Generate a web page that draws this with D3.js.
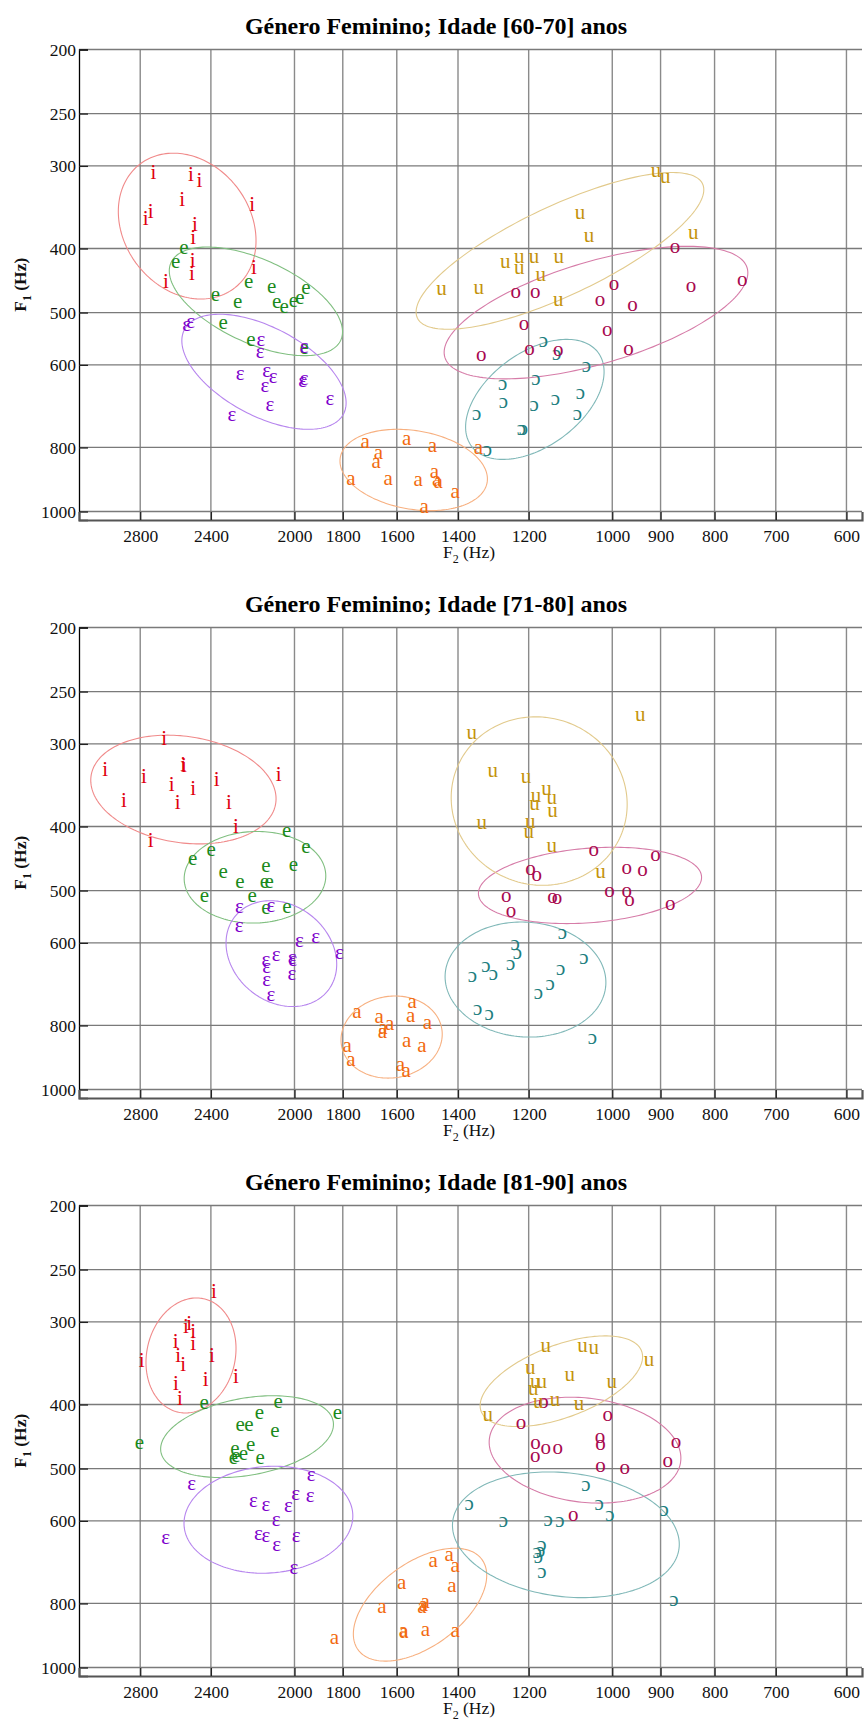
<!DOCTYPE html>
<html>
<head>
<meta charset="utf-8">
<script src="https://cdn.jsdelivr.net/npm/d3@7"></script>
<style>
  html, body { margin: 0; padding: 0; background: #fff; }
  svg { display: block; }
  text { font-family: "Liberation Serif", "Times New Roman", serif; }
</style>
</head>
<body>
<svg id="chart" width="864" height="1722"></svg>
<script>
// ---- axis ticks ----
const f1Ticks = [200, 250, 300, 400, 500, 600, 800, 1000];
const f2Ticks = [2800, 2400, 2000, 1800, 1600, 1400, 1200, 1000, 900, 800, 700, 600];

const titles = [
  "Género Feminino; Idade [60-70] anos",
  "Género Feminino; Idade [71-80] anos",
  "Género Feminino; Idade [81-90] anos"
];

const vowels = ["i", "e", "ɛ", "a", "ɔ", "o", "u"];

// ---- formant measurements [F2 Hz, F1 Hz], age 60-70 ----
const g1_i = [[2721,309],[2507,311],[2461,318],[2555,339],[2193,345],[2737,354],[2767,362],[2485,370],[2494,387],[2497,420],[2501,439],[2647,451],[2185,430]];
const g1_e = [[2545,401],[2591,421],[2377,473],[2264,484],[2210,451],[2102,459],[2079,484],[2046,493],[2005,482],[1976,477],[1951,461],[2336,521],[2199,553],[1958,568]];
const g1_E = [[2530,525],[2508,519],[2152,552],[2156,576],[1958,566],[2251,622],[2125,615],[2095,629],[2133,649],[1965,637],[1958,632],[2110,692],[2293,717],[1851,678]];
const g1_a = [[1714,788],[1665,818],[1674,844],[1566,779],[1480,798],[1339,805],[1768,896],[1630,896],[1527,901],[1474,874],[1467,901],[1462,905],[1409,937],[1507,989]];
const g1_O = [[1162,555],[1129,580],[1058,604],[1270,644],[1181,632],[1268,686],[1186,692],[1132,678],[1072,664],[1344,714],[1079,714],[1219,753],[1214,753],[1313,810]];
const g1_o = [[872,400],[753,448],[842,457],[996,454],[1027,480],[957,489],[1234,468],[1183,468],[1212,522],[1011,533],[965,570],[1331,582],[1198,570],[1125,573]];
const g1_u = [[909,307],[891,313],[1073,355],[1052,385],[838,380],[1263,421],[1225,414],[1225,430],[1186,414],[1124,414],[1169,440],[1451,462],[1338,461],[1125,480]];

// ---- age 71-80 ----
const g2_i = [[2657,296],[3022,330],[2777,338],[2549,324],[2545,325],[2614,347],[2494,352],[2370,342],[2070,336],[2901,367],[2580,370],[2307,370],[2272,402],[2737,422]];
const g2_e = [[2034,408],[1951,432],[2399,436],[2497,450],[2129,461],[2005,460],[2336,471],[2253,487],[2136,487],[2113,487],[2434,511],[2193,512],[2129,533],[2033,531]];
const g2_E = [[2255,531],[2106,529],[2257,569],[1979,599],[1910,590],[1813,623],[2129,640],[2082,629],[2010,634],[2007,640],[2125,655],[2125,686],[2011,672],[2105,723]];
const g2_a = [[1745,766],[1663,781],[1625,798],[1649,811],[1651,823],[1547,740],[1552,777],[1497,796],[1783,864],[1768,905],[1566,849],[1515,864],[1587,922],[1568,943]];
const g2_O = [[1115,583],[1236,604],[1230,623],[1064,636],[1248,649],[1317,654],[1296,672],[1357,676],[1119,661],[1145,696],[1175,718],[1341,759],[1308,773],[1044,840]];
const g2_o = [[1041,436],[910,444],[969,464],[936,468],[1195,465],[1179,476],[1260,511],[1247,539],[1139,513],[1128,516],[1006,502],[969,502],[963,518],[881,527]];
const g2_u = [[941,272],[1359,290],[1298,331],[1207,338],[1154,352],[1181,361],[1141,364],[1185,372],[1139,380],[1329,397],[1196,395],[1200,409],[1141,430],[1026,471]];

// ---- age 81-90 ----
const g3_i = [[2384,271],[2534,307],[2516,303],[2494,312],[2591,323],[2494,325],[2791,345],[2577,339],[2549,350],[2395,339],[2272,365],[2427,369],[2590,374],[2568,394]];
const g3_e = [[2436,399],[2072,398],[1821,414],[2159,414],[2251,431],[2209,432],[2087,440],[2805,460],[2277,469],[2200,463],[2236,478],[2272,481],[2285,484],[2156,484]];
const g3_E = [[2503,530],[1928,513],[1995,548],[1933,553],[2188,563],[2129,571],[2027,573],[2082,600],[2649,639],[2164,630],[2129,634],[1993,635],[2079,656],[2002,710]];
const g3_a = [[1478,692],[1427,678],[1409,705],[1583,748],[1419,755],[1653,812],[1515,814],[1504,800],[1510,809],[1833,906],[1577,883],[1575,888],[1503,880],[1409,885]];
const g3_O = [[1059,531],[1366,568],[1029,568],[1005,590],[893,580],[1268,602],[1150,600],[1121,602],[1166,655],[1169,668],[1175,684],[1166,720],[874,793],[1178,672]];
const g3_o = [[1162,398],[1010,417],[1220,428],[1027,450],[1026,461],[1182,459],[1156,467],[1126,467],[1183,480],[870,458],[886,489],[1026,497],[973,501],[1089,590]];
const g3_u = [[1156,328],[1067,328],[1041,330],[923,344],[1196,354],[1097,362],[1183,371],[1166,371],[1001,372],[1188,381],[1175,398],[1133,396],[1075,401],[1312,416]];

// ---- dispersion ellipses: [vowel, F2 min, F2 max, F1 min, F1 max, correlation of log F2 / log F1] ----
const ell1 = [["i",2175,2937,287,477,-0.20],["e",1801,2628,398,581,-0.56],["ɛ",1787,2557,503,751,-0.54],["a",1313,1811,751,997,-0.22],["ɔ",1018,1377,549,834,0.46],["o",744,1443,397,630,0.60],["u",819,1534,307,530,0.78]];
const ell2 = [["i",2082,3119,291,425,-0.17],["e",1868,2544,407,560,0.03],["ɛ",1824,2322,518,749,-0.20],["a",1449,1807,722,961,0.07],["ɔ",1014,1440,558,833,-0.05],["o",823,1339,430,561,0.21],["u",968,1421,273,491,-0.04]];
const ell3 = [["i",2272,2765,276,412,0.12],["e",1837,2678,388,516,0.30],["ɛ",1761,2545,496,720,0.07],["a",1315,1759,660,978,0.52],["ɔ",864,1417,506,784,-0.15],["o",861,1308,390,564,-0.15],["u",936,1334,315,432,0.54]];

// ---- colours ----
const textColor = { "i": "#e0000e", "e": "#1b8a1b", "ɛ": "#7d00cc", "a": "#f26a0e", "ɔ": "#1f7f7f", "o": "#a8084f", "u": "#c4930c" };
const ringColor = { "i": "#f08a8a", "e": "#80bf80", "ɛ": "#b786ee", "a": "#f7b080", "ɔ": "#80b8b8", "o": "#d67ca8", "u": "#e2ca8c" };

const panels = [
  { title: titles[0], pts: [g1_i, g1_e, g1_E, g1_a, g1_O, g1_o, g1_u], ell: ell1 },
  { title: titles[1], pts: [g2_i, g2_e, g2_E, g2_a, g2_O, g2_o, g2_u], ell: ell2 },
  { title: titles[2], pts: [g3_i, g3_e, g3_E, g3_a, g3_O, g3_o, g3_u], ell: ell3 }
];

// ---- layout ----
const svg = d3.select("#chart");
const plotLeft = 79, plotRight = 862, plotH = 470.5, firstTop = 49.5, panelStep = 578;

const x = d3.scaleLog().domain([3200, 580]).range([plotLeft, plotRight]);

panels.forEach((p, k) => {
  const top = firstTop + k * panelStep;
  const bottom = top + plotH;
  const y = d3.scaleLog().domain([200, 1030]).range([top, bottom]);
  const g = svg.append("g");

  // grid
  g.append("g").selectAll("line").data(f2Ticks).join("line")
    .attr("x1", d => x(d)).attr("x2", d => x(d))
    .attr("y1", top).attr("y2", bottom)
    .attr("stroke", "#8a8a8a").attr("stroke-width", 1.4);
  g.append("g").selectAll("line").data(f1Ticks).join("line")
    .attr("x1", plotLeft).attr("x2", plotRight)
    .attr("y1", d => y(d)).attr("y2", d => y(d))
    .attr("stroke", "#7a7a7a").attr("stroke-width", 1.3);

  // axes
  const yAxis = d3.axisLeft(y).tickValues(f1Ticks).tickFormat(d3.format("d")).tickSize(-9).tickPadding(3);
  const yg = g.append("g").attr("transform", `translate(${plotLeft},0)`).call(yAxis);
  yg.select(".domain").attr("stroke", "#000").attr("stroke-width", 1.3);
  yg.selectAll(".tick line").attr("stroke", "#222").attr("stroke-width", 1.3);
  yg.selectAll(".tick text").attr("font-size", 17.5).attr("fill", "#111")
    .attr("font-family", "Liberation Serif");

  const xAxis = d3.axisBottom(x).tickValues(f2Ticks).tickFormat(d3.format("d")).tickSize(-8).tickPadding(10);
  const xg = g.append("g").attr("transform", `translate(0,${bottom})`).call(xAxis);
  xg.select(".domain").attr("stroke", "#555").attr("stroke-width", 2.2);
  xg.selectAll(".tick line").attr("stroke", "#222").attr("stroke-width", 1.3);
  xg.selectAll(".tick text").attr("font-size", 17.5).attr("fill", "#111")
    .attr("font-family", "Liberation Serif");

  // ellipses in log-log space
  const line = d3.line().curve(d3.curveLinearClosed);
  const ts = d3.range(0, 2 * Math.PI, Math.PI / 90);
  g.append("g").selectAll("path").data(p.ell).join("path")
    .attr("d", ([v, f2lo, f2hi, f1lo, f1hi, rho]) => {
      const mu = (Math.log10(f2lo) + Math.log10(f2hi)) / 2, su = (Math.log10(f2hi) - Math.log10(f2lo)) / 2;
      const mv = (Math.log10(f1lo) + Math.log10(f1hi)) / 2, sv = (Math.log10(f1hi) - Math.log10(f1lo)) / 2;
      const r2 = Math.sqrt(1 - rho * rho);
      return line(ts.map(t => [
        x(Math.pow(10, mu + su * Math.cos(t))),
        y(Math.pow(10, mv + sv * (rho * Math.cos(t) + r2 * Math.sin(t))))
      ]));
    })
    .attr("fill", "none")
    .attr("stroke", d => ringColor[d[0]])
    .attr("stroke-width", 1.1);

  // vowel symbols
  p.pts.forEach((arr, vi) => {
    const v = vowels[vi];
    g.append("g").selectAll("text").data(arr).join("text")
      .attr("x", d => x(d[0])).attr("y", d => y(d[1]))
      .attr("dy", "0.23em")
      .attr("text-anchor", "middle")
      .attr("font-size", 21)
      .attr("fill", textColor[v])
      .text(v);
  });

  // titles and labels
  g.append("text").attr("x", 436).attr("y", top - 16)
    .attr("text-anchor", "middle").attr("font-size", 24).attr("font-weight", "bold")
    .attr("fill", "#000").text(p.title);

  const xl = g.append("text").attr("x", 469).attr("y", bottom + 38)
    .attr("text-anchor", "middle").attr("font-size", 17.5).attr("fill", "#111");
  xl.append("tspan").text("F");
  xl.append("tspan").attr("font-size", 12).attr("dy", 5).text("2");
  xl.append("tspan").attr("dy", -5).text(" (Hz)");

  const yl = g.append("text")
    .attr("transform", `translate(26,${(top + bottom) / 2}) rotate(-90)`)
    .attr("text-anchor", "middle").attr("font-size", 17.5).attr("font-weight", "bold").attr("fill", "#111");
  yl.append("tspan").text("F");
  yl.append("tspan").attr("font-size", 12).attr("dy", 5).text("1");
  yl.append("tspan").attr("dy", -5).text(" (Hz)");
});
</script>
</body>
</html>
